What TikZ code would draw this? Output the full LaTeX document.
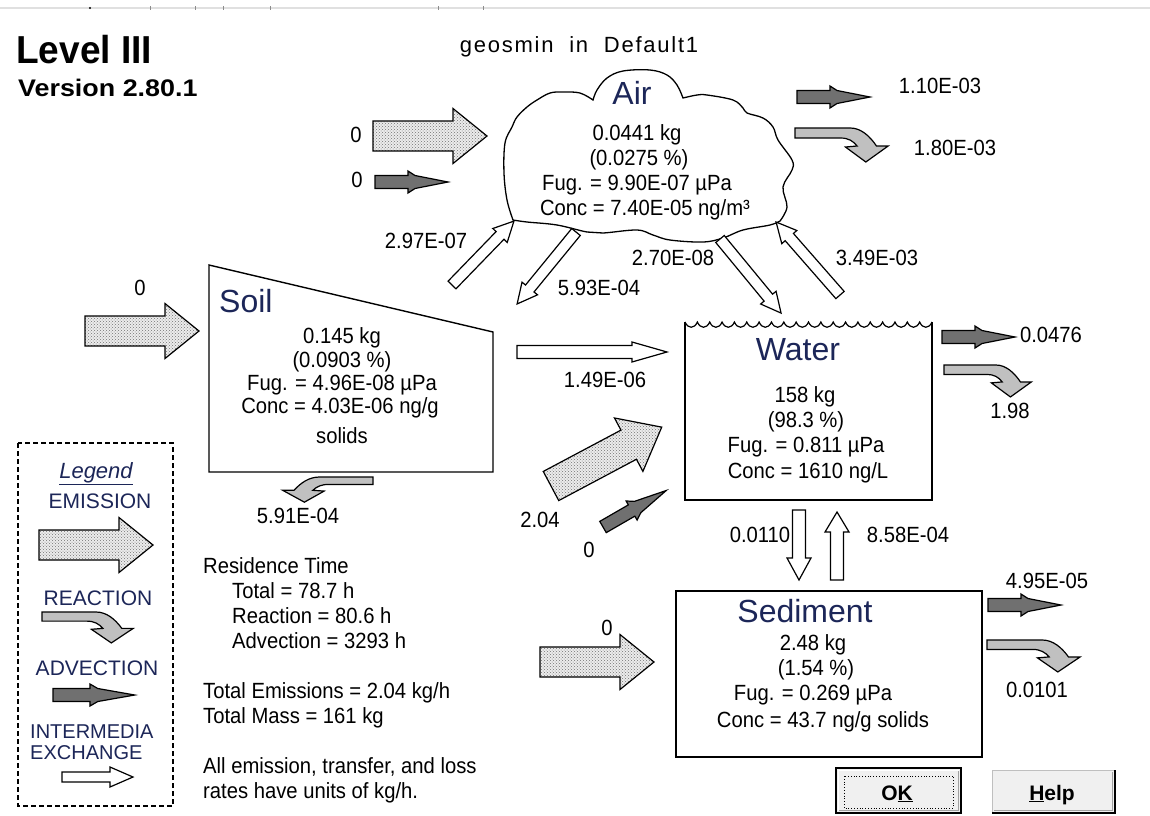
\documentclass[tikz,border=0pt]{standalone}
\usepackage{fontspec}
\setmainfont{Liberation Sans}[FakeStretch=0.92]
\newfontfamily\plainsans{Liberation Sans}
\newfontfamily\boldnarrow{Liberation Sans}[FakeStretch=0.95]
\newfontfamily\boldwide{Liberation Sans}[FakeStretch=1.12]
\newfontfamily\spacedsans{Liberation Sans}[LetterSpace=8]
\usetikzlibrary{patterns}
\definecolor{advfill}{RGB}{112,112,112}
\definecolor{reafill}{RGB}{192,192,192}
\definecolor{emisbg}{RGB}{236,236,236}
\definecolor{titlecol}{RGB}{28,38,88}
\definecolor{btnface}{RGB}{240,240,240}
\definecolor{btnshadow}{RGB}{160,160,160}
\begin{document}
\begin{tikzpicture}[x=1pt,y=-1pt,
  lbl/.style={inner sep=0, anchor=base, font=\fontsize{22}{25}\selectfont},
  lblw/.style={lbl, anchor=base west},
  ttl/.style={inner sep=0, anchor=base, text=titlecol, font=\plainsans\fontsize{32}{36}\selectfont},
  leg/.style={inner sep=0, anchor=base, text=titlecol, font=\plainsans\fontsize{21}{24}\selectfont},
  legw/.style={leg, anchor=base west, font=\plainsans\fontsize{20}{22}\selectfont},
  arrline/.style={draw=black, line width=1.2pt, line join=miter},
  emisstyle/.style={arrline, preaction={fill=emisbg}, pattern=crosshatch dots, pattern color=black!55},
  advstyle/.style={arrline, fill=advfill},
  reastyle/.style={arrline, fill=reafill},
  exstyle/.style={arrline, fill=white},
  boxline/.style={draw=black, line width=1.4pt},
  btntxt/.style={inner sep=0, anchor=base, font=\plainsans\bfseries\fontsize{21}{24}\selectfont},
  pics/emis/.style={code={\path[emisstyle] (0,-15) -- (80,-15) -- (80,-27.5) -- (114,0) -- (80,27.5) -- (80,15) -- (0,15) -- cycle;}},
  pics/advec/.style={code={\path[advstyle] (0,-6.5) -- (33,-6.5) -- (33,-11) -- (40,-6.5) -- (73,0) -- (40,6.5) -- (33,11) -- (33,6.5) -- (0,6.5) -- cycle;}},
  pics/react/.style={code={\path[reastyle] (0,0) -- (57,0) .. controls (68,0) and (77,8) .. (84,18) -- (96,18) -- (73,34) -- (52,19) -- (64,18) .. controls (60,13) and (55,10) .. (47,10) -- (0,10) -- cycle;}},
  pics/exch/.style n args={4}{code={\path[exstyle] (0,-#2) -- ({#1-#4},-#2) -- ({#1-#4},-#3) -- (#1,0) -- ({#1-#4},#3) -- ({#1-#4},#2) -- (0,#2) -- cycle;}}
]
\useasboundingbox (0,0) rectangle (1150,815);
\fill[white] (0,0) rectangle (1150,815);

% top strip remnants
\draw[black!12, line width=2pt] (0,8) -- (1150,8);
\foreach \x in {150,195,223,270,438,483} \draw[black!45, line width=0.8pt] (\x,6) -- (\x,10);
\fill[black] (90,8) circle (1.2);

% header
\node[inner sep=0, anchor=base west, font=\boldnarrow\bfseries\fontsize{39}{43}\selectfont] (lvl) at (16,63) {Level III};
\node[inner sep=0, anchor=base west, font=\boldwide\bfseries\fontsize{24}{28}\selectfont] (ver) at (18,96) {Version 2.80.1};
\node[inner sep=0, anchor=base, font=\spacedsans\fontsize{22}{25}\selectfont] (chem) at (579,52) {geosmin \ in \ Default1};

% ---------- Air cloud ----------
\draw[line width=1.3pt]
  plot[smooth, tension=0.6] coordinates {(593,100) (580,93) (563,92) (550,93) (537,100) (527,107) (517,117) (512,127) (505,143) (504,173) (507,200) (513,220)}
  -- plot[smooth, tension=0.6] coordinates {(513,220) (527,222) (557,225) (587,232) (603,233) (637,230) (653,235) (670,240) (703,242) (723,238) (743,230) (770,225) (780,221)}
  -- plot[smooth, tension=0.6] coordinates {(780,221) (787,207) (783,187) (792,170) (792,160) (778,140) (773,127) (763,118) (747,113) (743,108) (733,100) (707,95) (697,95) (683,98)}
  -- plot[smooth, tension=0.6] coordinates {(683,98) (677,85) (667,75) (650,70) (623,71) (607,78) (597,90) (593,100)} -- cycle;
\node[ttl] (airT) at (632,104) {Air};
\node[lbl] (airM) at (637,140) {0.0441 kg};
\node[lbl] (airP) at (639,165) {(0.0275 \%)};
\node[lbl] (airF) at (637,190) {Fug. = 9.90E-07 µPa};
\node[lbl] (airC) at (645,215) {Conc = 7.40E-05 ng/m³};

% air inputs/outputs
\pic at (373,136) {emis};
\node[lbl] (eAir) at (356,142) {0};
\pic at (375,182) {advec};
\node[lbl] (aAirIn) at (357,187) {0};
\pic at (797,97) {advec};
\node[lbl] (aAirOut) at (940,93) {1.10E-03};
\pic[xscale=0.97] at (795,128) {react};
\node[lbl] (rAir) at (955,155) {1.80E-03};

% ---------- Soil ----------
\draw[boxline] (209,265) -- (493,332) -- (493,472) -- (209,472) -- cycle;
\node[ttl, anchor=base west] (soilT) at (219,312) {Soil};
\node[lbl] (soilM) at (342,343) {0.145 kg};
\node[lbl] (soilP) at (342,367) {(0.0903 \%)};
\node[lbl] (soilF) at (342,390) {Fug. = 4.96E-08 µPa};
\node[lbl] (soilC) at (340,413) {Conc = 4.03E-06 ng/g};
\node[lbl] (soilS) at (342,443) {solids};
\pic at (85,331) {emis};
\node[lbl] (eSoil) at (140,295) {0};
\pic[xscale=-0.94, yscale=0.74] at (373,477) {react};
\node[lbl] (rSoil) at (298,523) {5.91E-04};

% air <-> soil, air <-> water
\pic[rotate=45.9] at (452,285) {exch={89}{5.5}{10}{20}};
\node[lbl] (xSA) at (426,248) {2.97E-07};
\pic[rotate=-129.3] at (576,232) {exch={93}{5.5}{10}{20}};
\node[lbl] (xAS) at (599,295) {5.93E-04};
\pic[rotate=-50.5] at (720,239) {exch={96}{5.5}{10}{20}};
\node[lbl] (xAW) at (673,265) {2.70E-08};
\pic[rotate=131.2] at (840,295) {exch={97}{5.5}{10}{20}};
\node[lbl] (xWA) at (877,265) {3.49E-03};

% soil -> water
\pic at (517,352) {exch={150}{6.5}{10}{35}};
\node[lbl] (xSW) at (605,387) {1.49E-06};

% ---------- Water ----------
\draw[boxline] (685,322) -- (685,500) -- (932,500) -- (932,322);
\draw[line width=1.2pt] (685,322) \foreach \i in {0,...,19}{ .. controls ({688+12.35*\i},329) and ({694.35+12.35*\i},329) .. ({697.35+12.35*\i},322)};
\node[ttl] (watT) at (798,360) {Water};
\node[lbl] (watM) at (805,402) {158 kg};
\node[lbl] (watP) at (806,427) {(98.3 \%)};
\node[lbl] (watF) at (806,452) {Fug. = 0.811 µPa};
\node[lbl] (watC) at (808,478) {Conc = 1610 ng/L};
\pic[rotate=28, scale=1.1] at (551,486) {emis};
\node[lbl] (eWat) at (540,527) {2.04};
\pic[rotate=30] at (603,527) {advec};
\node[lbl] (aWatIn) at (589,557) {0};
\pic at (942,337) {advec};
\node[lbl] (aWatOut) at (1051,342) {0.0476};
\pic[xscale=0.91, yscale=0.94] at (944,365) {react};
\node[lbl] (rWat) at (1010,418) {1.98};

% water <-> sediment
\pic[rotate=-90] at (799,510) {exch={70}{6.5}{12}{22}};
\node[lbl] (xWS) at (760,542) {0.0110};
\pic[rotate=90] at (837,580) {exch={68}{6.5}{12}{20}};
\node[lbl] (xSdW) at (908,542) {8.58E-04};

% ---------- Sediment ----------
\draw[boxline] (676,591) rectangle (982,757);
\node[ttl] (sedT) at (805,622) {Sediment};
\node[lbl] (sedM) at (813,650) {2.48 kg};
\node[lbl] (sedP) at (816,675) {(1.54 \%)};
\node[lbl] (sedF) at (813,700) {Fug. = 0.269 µPa};
\node[lbl] (sedC) at (823,727) {Conc = 43.7 ng/g solids};
\pic at (540,662) {emis};
\node[lbl] (eSed) at (607,635) {0};
\pic at (988,605) {advec};
\node[lbl] (aSed) at (1047,588) {4.95E-05};
\pic[xscale=0.97, yscale=0.94] at (987,640) {react};
\node[lbl] (rSed) at (1037,697) {0.0101};

% ---------- Residence text ----------
\node[lblw] (rt0) at (203,573) {Residence Time};
\node[lblw] (rt1) at (232,598) {Total = 78.7 h};
\node[lblw] (rt2) at (232,623) {Reaction = 80.6 h};
\node[lblw] (rt3) at (232,648) {Advection = 3293 h};
\node[lblw] (te) at (203,698) {Total Emissions = 2.04 kg/h};
\node[lblw] (tm) at (203,723) {Total Mass = 161 kg};
\node[lblw] (n1) at (203,773) {All emission, transfer, and loss};
\node[lblw] (n2) at (203,798) {rates have units of kg/h.};

% ---------- Legend ----------
\draw[black, line width=1.1pt, dash pattern=on 5pt off 3pt] (18,443) rectangle (173,806);
\node[inner sep=0, anchor=base, text=titlecol, font=\plainsans\itshape\fontsize{22}{25}\selectfont] (legT) at (96,478) {\underline{Legend}};
\node[leg] (legE) at (100,508) {EMISSION};
\pic at (39,545) {emis};
\node[leg] (legR) at (98,605) {REACTION};
\pic[xscale=0.95, yscale=0.91] at (42,612) {react};
\node[leg] (legA) at (97,675) {ADVECTION};
\pic[xscale=1.12] at (53,695) {advec};
\node[legw] (legI) at (30,738) {INTERMEDIA};
\node[legw] (legX) at (30,759) {EXCHANGE};
\pic at (62,777) {exch={71}{5}{10}{23}};

% ---------- Buttons ----------
\fill[btnface] (836,768) rectangle (961,813);
\draw[black, line width=1.5pt] (836,768) rectangle (961,813);
\draw[white, line width=1pt] (838.5,810.5) -- (838.5,770.5) -- (958.5,770.5);
\draw[btnshadow, line width=1pt] (839,810.5) -- (958.5,810.5) -- (958.5,771);
\draw[black, line width=0.8pt, dotted] (844,776) rectangle (953,808);
\node[btntxt] (ok) at (897,800) {O\underline{K}};
\fill[btnface] (992,770) rectangle (1115,813);
\draw[black!25, line width=1pt] (992,813) -- (992,770) -- (1115,770);
\draw[black, line width=1.2pt] (992,813) -- (1115,813) -- (1115,770);
\draw[btnshadow, line width=1pt] (994,810.5) -- (1112.5,810.5) -- (1112.5,772);
\node[btntxt] (help) at (1052,800) {\underline{H}elp};
\end{tikzpicture}
\end{document}
